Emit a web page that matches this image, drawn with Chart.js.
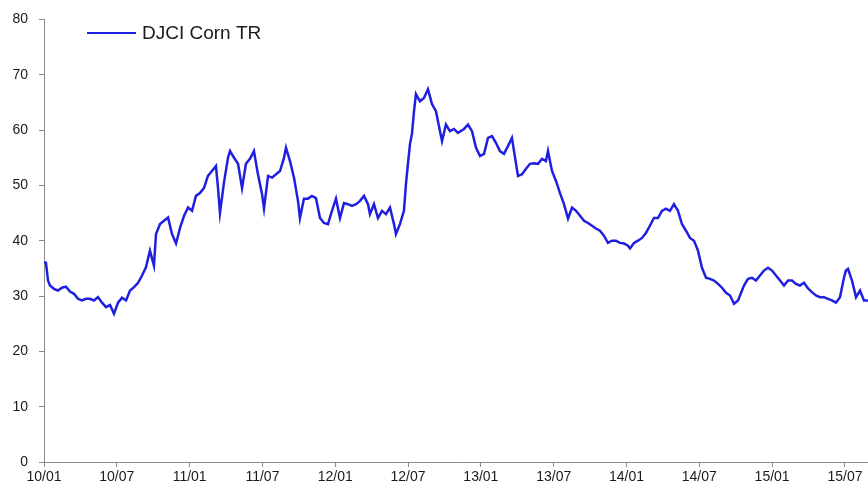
<!DOCTYPE html>
<html>
<head>
<meta charset="utf-8">
<title>DJCI Corn TR</title>
<script src="https://cdn.jsdelivr.net/npm/chart.js@4.4.1/dist/chart.umd.min.js"></script>
<style>
    html, body { margin: 0; padding: 0; background: #fff; }
    #wrap { width: 868px; height: 498px; position: relative; }
</style>
</head>
<body>
<div id="wrap"><canvas id="cornChart"></canvas></div>
<script>
// Months since Jan 2010 for each reading
const months = [
    0, 0.16, 0.33, 0.49, 0.82, 1.15, 1.48, 1.81, 2.14, 2.47, 2.80, 3.13, 3.46, 3.79, 4.12, 4.45,
    4.78, 5.11, 5.44, 5.77, 6.10, 6.43, 6.76, 7.09, 7.42, 7.75, 8.08, 8.40, 8.73, 9.06, 9.23, 9.56,
    9.89, 10.22, 10.55, 10.88,
    11.21, 11.54, 11.87, 12.20, 12.52, 12.85, 13.18, 13.51, 13.84, 14.17, 14.34, 14.50, 14.83, 15.16,
    15.33, 15.66, 15.99, 16.32, 16.64, 16.97, 17.30, 17.63, 17.96, 18.13, 18.46, 18.79, 19.12, 19.45,
    19.78, 19.94, 20.27, 20.60, 20.93, 21.09, 21.42, 21.75, 22.08, 22.41,
    22.74, 23.07, 23.40, 23.73, 24.06, 24.39, 24.72, 25.05, 25.38, 25.71, 26.04, 26.37, 26.70, 26.86,
    27.19, 27.52, 27.85, 28.18, 28.51, 28.84, 29.00, 29.33, 29.66, 29.83, 29.99, 30.16, 30.32, 30.49,
    30.65, 30.98, 31.31, 31.64, 31.97, 32.30, 32.63, 32.80, 33.12, 33.45, 33.78, 34.11,
    34.61, 34.94, 35.27, 35.60, 35.93, 36.26, 36.59, 36.92, 37.24, 37.57, 37.90, 38.23, 38.56, 38.73,
    39.06, 39.39, 39.72, 40.05, 40.38, 40.71, 41.04, 41.36, 41.53, 41.86, 42.19, 42.52, 42.85, 43.18,
    43.51, 43.84, 44.17, 44.50, 44.83, 45.16, 45.48,
    45.81, 46.14, 46.47, 46.80, 47.13, 47.46, 47.79, 48.12, 48.29, 48.62, 48.95, 49.28, 49.60, 49.93,
    50.26, 50.59, 50.92, 51.25, 51.58, 51.91, 52.24, 52.57, 52.90, 53.23, 53.56, 53.89, 54.22, 54.55,
    54.88, 55.21, 55.54, 55.87, 56.20, 56.53, 56.86, 57.19,
    57.68, 58.01, 58.34, 58.67, 59.00, 59.33, 59.66, 59.99, 60.32, 60.65, 60.98, 61.31, 61.64, 61.96,
    62.29, 62.62, 62.95, 63.28, 63.61, 63.94, 64.27, 64.60, 64.93, 65.26, 65.59, 65.92, 66.08, 66.25,
    66.58, 66.91, 67.24, 67.57, 67.90
];

const cornTR = [
    36.1, 36.0, 32.8, 31.9, 31.3, 31.0, 31.5, 31.7, 30.8, 30.4, 29.5, 29.2, 29.5, 29.5, 29.2, 29.8,
    28.8, 28.0, 28.4, 26.8, 28.8, 29.7, 29.2, 31.0, 31.6, 32.4, 33.7, 35.2, 38.2, 35.5, 41.2, 43.0,
    43.6, 44.2, 41.2, 39.5,
    42.3, 44.5, 46.0, 45.4, 48.1, 48.6, 49.5, 51.7, 52.6, 53.5, 49.5, 45.0, 50.5, 55.0,
    56.2, 55.0, 53.9, 49.5, 53.9, 54.8, 56.2, 52.0, 48.5, 45.8, 51.7, 51.4, 52.0, 52.6,
    55.0, 56.8, 54.4, 51.4, 47.2, 44.1, 47.6, 47.6, 48.1, 47.7,
    44.1, 43.2, 43.0, 45.4, 47.6, 44.1, 46.8, 46.6, 46.3, 46.6, 47.2, 48.1, 46.6, 44.8,
    46.6, 44.1, 45.4, 44.8, 46.0, 43.0, 41.2, 43.0, 45.4, 50.3, 53.9, 57.5, 59.3, 63.4,
    66.5, 65.2, 65.8, 67.4, 64.7, 63.4, 59.8, 58.0, 61.0, 59.8, 60.2, 59.5,
    60.2, 61.0, 59.8, 56.8, 55.3, 55.7, 58.6, 58.9, 57.7, 56.2, 55.7, 57.1, 58.6, 56.2,
    51.7, 52.0, 53.0, 53.9, 54.0, 53.9, 54.8, 54.4, 56.2, 52.6, 50.8, 48.6, 46.6, 44.0,
    46.0, 45.4, 44.5, 43.6, 43.2, 42.7, 42.2,
    41.8, 40.9, 39.6, 40.0, 40.0, 39.6, 39.5, 39.1, 38.6, 39.6, 40.0, 40.5, 41.4, 42.7,
    44.1, 44.1, 45.4, 45.8, 45.4, 46.6, 45.4, 43.0, 41.8, 40.5, 40.0, 38.2, 35.1, 33.3,
    33.1, 32.8, 32.2, 31.5, 30.6, 30.1, 28.6, 29.2,
    31.9, 33.1, 33.3, 32.8, 33.7, 34.6, 35.1, 34.6, 33.7, 32.8, 31.9, 32.8, 32.8, 32.2,
    31.9, 32.4, 31.4, 30.7, 30.1, 29.8, 29.8, 29.5, 29.2, 28.8, 29.8, 33.3, 34.6, 34.9,
    32.8, 29.8, 31.0, 29.2, 29.2
];

const tickMonths = [0, 6, 12, 18, 24, 30, 36, 42, 48, 54, 60, 66];
const tickLabels = ['10/01', '10/07', '11/01', '11/07', '12/01', '12/07',
                    '13/01', '13/07', '14/01', '14/07', '15/01', '15/07'];
const seriesName = 'DJCI Corn TR';

const lineColor = '#1f1fe0';
const axisColor = '#8c8c8c';
const textColor = '#1a1a1a';

// simple legend drawn inside the plot, top left
const insideLegend = {
    id: 'insideLegend',
    afterDraw(chart) {
        const ctx = chart.ctx;
        const ds = chart.data.datasets[0];
        ctx.save();
        ctx.strokeStyle = ds.borderColor;
        ctx.lineWidth = 2;
        ctx.beginPath();
        ctx.moveTo(87, 33);
        ctx.lineTo(136, 33);
        ctx.stroke();
        ctx.fillStyle = textColor;
        ctx.font = '19px "Liberation Sans", Arial, sans-serif';
        ctx.textBaseline = 'middle';
        ctx.fillText(ds.label, 142, 34);
        ctx.restore();
    }
};

document.addEventListener('DOMContentLoaded', function() {
    const ctx = document.getElementById('cornChart').getContext('2d');

    new Chart(ctx, {
        type: 'line',
        data: {
            datasets: [{
                label: seriesName,
                data: months.map((m, i) => ({ x: m, y: cornTR[i] })),
                borderColor: lineColor,
                borderWidth: 2.5,
                pointRadius: 0,
                tension: 0,
                fill: false
            }]
        },
        options: {
            responsive: true,
            maintainAspectRatio: false,
            animation: false,
            layout: { padding: { top: 18, left: 0, right: 0, bottom: 0 } },
            plugins: {
                legend: { display: false },
                tooltip: { enabled: false }
            },
            scales: {
                x: {
                    type: 'linear',
                    min: 0,
                    max: 67.9,
                    afterBuildTicks: scale => {
                        scale.ticks = tickMonths.map(v => ({ value: v }));
                    },
                    afterFit: scale => { scale.height = 36; },
                    grid: { drawOnChartArea: false, color: axisColor, tickLength: 5 },
                    border: { color: axisColor, width: 1 },
                    ticks: {
                        autoSkip: false,
                        maxRotation: 0,
                        padding: 2,
                        color: textColor,
                        font: { family: '"Liberation Sans", Arial, sans-serif', size: 14 },
                        callback: value => tickLabels[tickMonths.indexOf(value)]
                    }
                },
                y: {
                    min: 0,
                    max: 80,
                    afterFit: scale => { scale.width = 44; },
                    grid: { drawOnChartArea: false, color: axisColor, tickLength: 5 },
                    border: { color: axisColor, width: 1 },
                    ticks: {
                        stepSize: 10,
                        padding: 11,
                        color: textColor,
                        font: { family: '"Liberation Sans", Arial, sans-serif', size: 14 }
                    }
                }
            }
        },
        plugins: [insideLegend]
    });
});
</script>
</body>
</html>
